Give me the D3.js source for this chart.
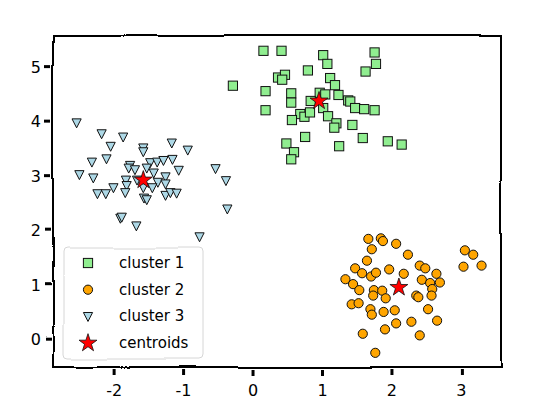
<!DOCTYPE html>
<html>
<head>
<style>
  body { margin: 0; background: #fff; }
  text { font-family: "Comic Sans MS", "DejaVu Sans", sans-serif; }
</style>
</head>
<body>
<div id="chart"></div>
<script src="https://d3js.org/d3.v7.min.js"></script>
<script>
// cluster points
const cluster1 = [
  [0.15, 5.29], [0.41, 5.29], [1.01, 5.21], [1.75, 5.26], [1.07, 5.05], [1.77, 5.05],
  [1.62, 4.91], [0.79, 4.93], [0.36, 4.80], [0.46, 4.85], [0.42, 4.76], [-0.29, 4.65],
  [1.11, 4.79], [1.18, 4.66], [0.18, 4.55], [0.55, 4.51], [0.55, 4.34], [0.96, 4.52],
  [1.04, 4.49], [1.23, 4.48], [0.83, 4.37], [1.37, 4.38], [1.40, 4.36], [1.47, 4.24],
  [1.60, 4.22], [1.75, 4.20], [0.18, 4.20], [0.68, 4.13], [0.74, 4.08], [0.82, 4.16],
  [1.01, 4.24], [1.08, 4.09], [0.56, 4.02], [1.20, 3.96], [1.17, 3.88], [1.43, 3.93],
  [0.75, 3.71], [1.58, 3.69], [1.94, 3.63], [2.14, 3.57], [0.48, 3.59], [1.24, 3.54],
  [0.59, 3.43], [0.55, 3.30]
];
const cluster2 = [
  [1.66, 1.84], [1.84, 1.85], [1.87, 1.80], [1.71, 1.65], [2.06, 1.75], [2.23, 1.55],
  [3.05, 1.63], [3.17, 1.55], [3.03, 1.33], [3.29, 1.35], [1.64, 1.44], [1.47, 1.30],
  [1.57, 1.21], [1.70, 1.15], [1.77, 1.22], [1.96, 1.28], [2.17, 1.20], [2.40, 1.35],
  [2.48, 1.30], [2.64, 1.20], [1.33, 1.10], [1.44, 1.01], [1.53, 0.90], [1.74, 0.90],
  [1.86, 0.89], [1.73, 0.80], [1.91, 0.75], [2.43, 1.09], [2.55, 1.03], [2.69, 1.04],
  [2.58, 0.92], [2.57, 0.80], [2.35, 0.80], [2.38, 0.77], [1.42, 0.64], [1.52, 0.66],
  [1.69, 0.55], [1.71, 0.45], [1.88, 0.50], [2.04, 0.53], [2.52, 0.55], [2.28, 0.32],
  [2.06, 0.29], [1.90, 0.18], [2.65, 0.34], [1.58, 0.10], [2.40, 0.07], [1.76, -0.25]
];
const cluster3 = [
  [-2.54, 3.97], [-2.18, 3.77], [-1.87, 3.71], [-2.05, 3.54], [-1.58, 3.51], [-1.58, 3.44],
  [-1.17, 3.60], [-0.94, 3.47], [-2.32, 3.25], [-2.11, 3.31], [-2.50, 3.02], [-2.30, 2.96],
  [-1.77, 3.19], [-1.79, 3.14], [-1.70, 3.11], [-1.48, 3.24], [-1.38, 3.25], [-1.29, 3.28],
  [-1.16, 3.30], [-1.07, 3.10], [-1.53, 3.14], [-1.43, 3.05], [-1.26, 2.98], [-0.54, 3.13],
  [-0.39, 2.91], [-1.83, 2.92], [-1.82, 2.82], [-1.67, 2.92], [-1.37, 2.88], [-1.26, 2.85],
  [-2.01, 2.78], [-2.24, 2.67], [-2.12, 2.67], [-1.84, 2.69], [-1.58, 2.78], [-1.45, 2.78],
  [-1.26, 2.64], [-1.19, 2.69], [-1.10, 2.68], [-1.57, 2.59], [-1.53, 2.56], [-0.37, 2.39],
  [-1.91, 2.22], [-1.89, 2.24], [-1.68, 2.08], [-0.77, 1.88]
];
const centroids = [[0.95, 4.37], [2.10, 0.95], [-1.58, 2.92]];
const xTicks = [-2, -1, 0, 1, 2, 3];
const yTicks = [0, 1, 2, 3, 4, 5];
const legendLabels = ["cluster 1", "cluster 2", "cluster 3", "centroids"];

const width = 533, height = 399;
const margin = { left: 53, right: 32, top: 35, bottom: 32 };

const x = d3.scaleLinear().domain([-2.88, 3.57]).range([margin.left, width - margin.right]);
const y = d3.scaleLinear().domain([-0.51, 5.58]).range([height - margin.bottom, margin.top]);

const svg = d3.select("#chart").append("svg")
    .attr("width", width)
    .attr("height", height);

// hand-drawn wobble for lines
const defs = svg.append("defs");
const wobble = defs.append("filter").attr("id", "wobble")
    .attr("x", "-5%").attr("y", "-5%").attr("width", "110%").attr("height", "110%");
wobble.append("feTurbulence").attr("type", "fractalNoise")
    .attr("baseFrequency", 0.012).attr("numOctaves", 2).attr("seed", 3).attr("result", "noise");
wobble.append("feDisplacementMap").attr("in", "SourceGraphic").attr("in2", "noise")
    .attr("scale", 4).attr("xChannelSelector", "R").attr("yChannelSelector", "G");

const markerR = 4.6;
const triPath = `M${-markerR},${-markerR * 0.85}L${markerR},${-markerR * 0.85}L0,${markerR * 1.1}Z`;
const star = d3.symbol().type(d3.symbolStar).size(100);

function drawSquare(g, px, py) {
  g.append("rect")
      .attr("x", px - markerR).attr("y", py - markerR)
      .attr("width", markerR * 2).attr("height", markerR * 2)
      .attr("fill", "lightgreen").attr("stroke", "#111").attr("stroke-width", 1);
}
function drawCircle(g, px, py) {
  g.append("circle").attr("cx", px).attr("cy", py).attr("r", markerR)
      .attr("fill", "orange").attr("stroke", "#111").attr("stroke-width", 1);
}
function drawTri(g, px, py) {
  g.append("path").attr("d", triPath).attr("transform", `translate(${px},${py})`)
      .attr("fill", "lightblue").attr("stroke", "#111").attr("stroke-width", 1);
}
function drawStar(g, px, py) {
  g.append("path").attr("d", star()).attr("transform", `translate(${px},${py})`)
      .attr("fill", "red").attr("stroke", "#111").attr("stroke-width", 0.8);
}

const pts = svg.append("g");
cluster1.forEach(d => drawSquare(pts, x(d[0]), y(d[1])));
cluster2.forEach(d => drawCircle(pts, x(d[0]), y(d[1])));
cluster3.forEach(d => drawTri(pts, x(d[0]), y(d[1])));
centroids.forEach(d => drawStar(pts, x(d[0]), y(d[1])));

// frame and ticks
const frame = svg.append("g").attr("filter", "url(#wobble)");
frame.append("rect")
    .attr("x", x.range()[0]).attr("y", y.range()[1])
    .attr("width", x.range()[1] - x.range()[0])
    .attr("height", y.range()[0] - y.range()[1])
    .attr("fill", "none").attr("stroke", "#000").attr("stroke-width", 2);

const bottomY = y.range()[0];
frame.selectAll(".xt").data(xTicks).join("line")
    .attr("x1", d => x(d)).attr("x2", d => x(d))
    .attr("y1", bottomY + 2).attr("y2", bottomY + 8)
    .attr("stroke", "#000").attr("stroke-width", 3);
frame.selectAll(".yt").data(yTicks).join("line")
    .attr("y1", d => y(d)).attr("y2", d => y(d))
    .attr("x1", x.range()[0] - 8).attr("x2", x.range()[0] - 2)
    .attr("stroke", "#000").attr("stroke-width", 3);

svg.selectAll(".xl").data(xTicks).join("text")
    .attr("x", d => x(d)).attr("y", bottomY + 29)
    .attr("text-anchor", "middle").attr("font-size", 16)
    .text(d => d < 0 ? "-" + Math.abs(d) : d);
svg.selectAll(".yl").data(yTicks).join("text")
    .attr("x", x.range()[0] - 12).attr("y", d => y(d) + 6)
    .attr("text-anchor", "end").attr("font-size", 16)
    .text(d => d);

// legend
const lg = svg.append("g");
lg.append("rect")
    .attr("x", 63).attr("y", 248).attr("width", 140).attr("height", 111)
    .attr("rx", 4)
    .attr("fill", "#fff").attr("fill-opacity", 0.8)
    .attr("stroke", "#d6d6d6").attr("stroke-width", 1)
    .attr("filter", "url(#wobble)");
const drawers = [drawSquare, drawCircle, drawTri, drawStar];
legendLabels.forEach((lab, i) => {
  const ly = 263 + i * 26.7;
  drawers[i](lg, 88, ly);
  lg.append("text").attr("x", 119).attr("y", ly + 5)
      .attr("font-size", 15).text(lab);
});
</script>
</body>
</html>
